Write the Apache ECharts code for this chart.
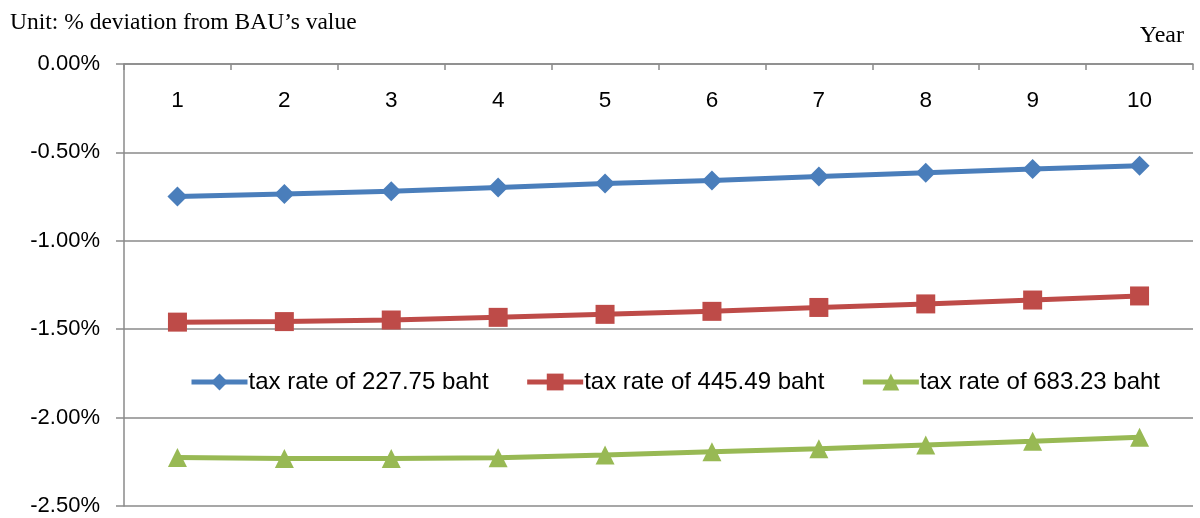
<!DOCTYPE html>
<html>
<head>
<meta charset="utf-8">
<script src="https://cdn.jsdelivr.net/npm/echarts@6/dist/echarts.min.js"></script>
<style>html,body{margin:0;padding:0;background:#fff;}#c{width:1200px;height:518px;}</style>
</head>
<body>
<div id="c"></div>
<script>
const years = ['1','2','3','4','5','6','7','8','9','10'];
const seriesNames = ['tax rate of 227.75 baht','tax rate of 445.49 baht','tax rate of 683.23 baht'];
const tax227 = [-0.750,-0.735,-0.720,-0.698,-0.676,-0.659,-0.637,-0.615,-0.594,-0.575];
const tax445 = [-1.460,-1.457,-1.448,-1.433,-1.416,-1.399,-1.377,-1.357,-1.335,-1.312];
const tax683 = [-2.225,-2.232,-2.232,-2.227,-2.212,-2.193,-2.176,-2.155,-2.134,-2.111];
const yMin = -2.5, yMax = 0, yStep = 0.5;

const chart = echarts.init(document.getElementById('c'), null, {renderer:'canvas'});
const gray = '#8a8a8a';
const uiFont = 'Liberation Sans';
function mk(name, data, color, symbol, size){
  return {name, type:'line', data, symbol, symbolSize:size, showSymbol:true,
    lineStyle:{color, width:5}, itemStyle:{color}, animation:false};
}
chart.setOption({
  animation:false,
  backgroundColor:'#fff',
  grid:{left:124, right:7, top:64, bottom:12, containLabel:false},
  title:[
    {text:'Unit: % deviation from BAU\u2019s value', left:5, top:6,
     textStyle:{fontFamily:'Liberation Serif', fontSize:23.5, fontWeight:'normal', color:'#000'}},
    {text:'Year', right:11, top:19,
     textStyle:{fontFamily:'Liberation Serif', fontSize:24, fontWeight:'normal', color:'#000'}}
  ],
  legend:{left:184, top:365, itemGap:36, itemWidth:56, itemHeight:21,
    lineStyle:{width:5},
    textStyle:{fontFamily:uiFont, fontSize:24, color:'#000', padding:[0,0,0,-4]},
    data:seriesNames},
  xAxis:{type:'category', data:years, position:'top', boundaryGap:true,
    axisLine:{lineStyle:{color:gray, width:1.5}},
    axisTick:{show:true, inside:true, length:6, lineStyle:{color:gray, width:1.5}},
    axisLabel:{inside:true, margin:25, fontFamily:uiFont, fontSize:22.5, color:'#000'},
    splitLine:{show:false}},
  yAxis:{type:'value', min:yMin, max:yMax, interval:yStep,
    axisLine:{show:true, lineStyle:{color:gray, width:1.5}},
    axisTick:{show:true, length:8, lineStyle:{color:gray, width:1.5}},
    axisLabel:{margin:24, fontFamily:uiFont, fontSize:22, color:'#000',
      formatter:v=>v.toFixed(2)+'%'},
    splitLine:{show:true, lineStyle:{color:gray, width:1.5}}},
  series:[
    mk(seriesNames[0], tax227, '#4a7ebb', 'diamond', 20),
    mk(seriesNames[1], tax445, '#be4b48', 'rect', 19),
    mk(seriesNames[2], tax683, '#98b954', 'triangle', 19)
  ]
});
</script>
</body>
</html>
